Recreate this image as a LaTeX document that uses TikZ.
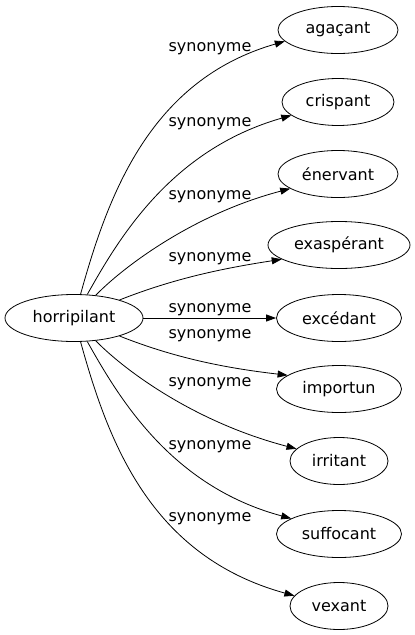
\documentclass[tikz,border=0pt]{standalone}
\usepackage{fontspec}
\setmainfont{DejaVu Sans}
\usetikzlibrary{arrows.meta,shapes.geometric}
\begin{document}
\begin{tikzpicture}[x=1pt,y=-1pt,
  every node/.style={font=\fontsize{16}{19}\selectfont},
  word/.style={draw,ellipse,line width=0.8pt,minimum height=47pt,inner sep=0pt},
  lbl/.style={anchor=base,inner sep=0pt},
  syn/.style={line width=0.8pt,-{Triangle[length=10pt,width=7pt]}}]
\useasboundingbox (0,0) rectangle (415,635);
\node[word,minimum width=138pt] (h) at (74,318) {horripilant};
\node[word,minimum width=120pt] (a1) at (338,30) {agaçant};
\node[word,minimum width=112pt] (a2) at (338,102) {crispant};
\node[word,minimum width=120pt] (a3) at (338,174) {énervant};
\node[word,minimum width=142pt] (a4) at (339,245) {exaspérant};
\node[word,minimum width=125pt] (a5) at (339,318) {excédant};
\node[word,minimum width=125pt] (a6) at (339,389) {importun};
\node[word,minimum width=98pt] (a7) at (339,461) {irritant};
\node[word,minimum width=125pt] (a8) at (339,534) {suffocant};
\node[word,minimum width=98pt] (a9) at (339,606) {vexant};
\draw[syn] (h) .. controls (108,195) and (150,80) .. (a1.192);
\draw[syn] (h) .. controls (118,240) and (170,150) .. (a2.196);
\draw[syn] (h) .. controls (120,270) and (190,215) .. (a3.197);
\draw[syn] (h) .. controls (175,278) and (225,268) .. (a4.194);
\draw[syn] (h) -- (a5);
\draw[syn] (h) .. controls (175,358) and (225,368) .. (a6.165);
\draw[syn] (h) .. controls (120,366) and (190,421) .. (a7.164);
\draw[syn] (h) .. controls (118,396) and (170,486) .. (a8.162);
\draw[syn] (h) .. controls (108,441) and (150,556) .. (a9.167);
\node[lbl] (l1) at (210,51) {synonyme};
\node[lbl] (l2) at (210,126) {synonyme};
\node[lbl] (l3) at (210,199) {synonyme};
\node[lbl] (l4) at (210,261) {synonyme};
\node[lbl] (l5) at (210,312) {synonyme};
\node[lbl] (l6) at (210,338) {synonyme};
\node[lbl] (l7) at (210,386) {synonyme};
\node[lbl] (l8) at (210,449) {synonyme};
\node[lbl] (l9) at (210,521) {synonyme};
\end{tikzpicture}
\end{document}
